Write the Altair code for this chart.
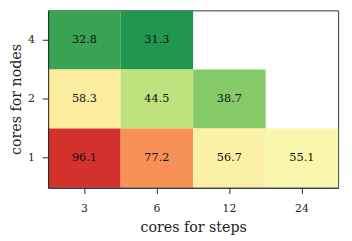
import altair as alt
import pandas as pd

steps = ["3", "6", "3", "6", "12", "3", "6", "12", "24"]
nodes = ["4", "4", "2", "2", "2", "1", "1", "1", "1"]
values = [32.8, 31.3, 58.3, 44.5, 38.7, 96.1, 77.2, 56.7, 55.1]

step_order = ["3", "6", "12", "24"]
node_order = ["4", "2", "1"]

df = pd.DataFrame({"steps": steps, "nodes": nodes, "value": values})

FONT = "DejaVu Serif"

x = alt.X("steps:O", sort=step_order, scale=alt.Scale(domain=step_order, paddingInner=0, paddingOuter=0),
          axis=alt.Axis(title="cores for steps", labelAngle=0))
y = alt.Y("nodes:O", sort=node_order, scale=alt.Scale(domain=node_order, paddingInner=0, paddingOuter=0),
          axis=alt.Axis(title="cores for nodes"))

rect = alt.Chart(df).mark_rect(strokeWidth=0).encode(
    x=x, y=y,
    color=alt.Color("value:Q", legend=None,
                    scale=alt.Scale(type="log", domain=[27.2, 110.6],
                                    scheme="redyellowgreen", reverse=True)),
)
text = alt.Chart(df).mark_text(font=FONT, fontSize=11.5, color="#111111").encode(
    x=x, y=y, text=alt.Text("value:Q", format=".1f"),
)

chart = (rect + text).properties(
    width=296, height=181,
    autosize=alt.AutoSizeParams(type="none"),
    padding={"left": 41, "top": 0, "right": 6, "bottom": 52},
).configure_view(
    stroke="#333333", strokeWidth=1,
).configure_axis(
    labelFont=FONT, titleFont=FONT, labelFontSize=11, titleFontSize=14.5,
    titleFontWeight="normal", labelColor="#222222", titleColor="#222222",
    domainColor="#222222", tickColor="#222222", tickSize=6, grid=False,
    labelPadding=9,
).configure_axisX(
    titlePadding=8,
).configure_axisY(
    titlePadding=4, labelPadding=8,
)

chart.save("out.html", embed_options={"renderer": "svg", "actions": False})
